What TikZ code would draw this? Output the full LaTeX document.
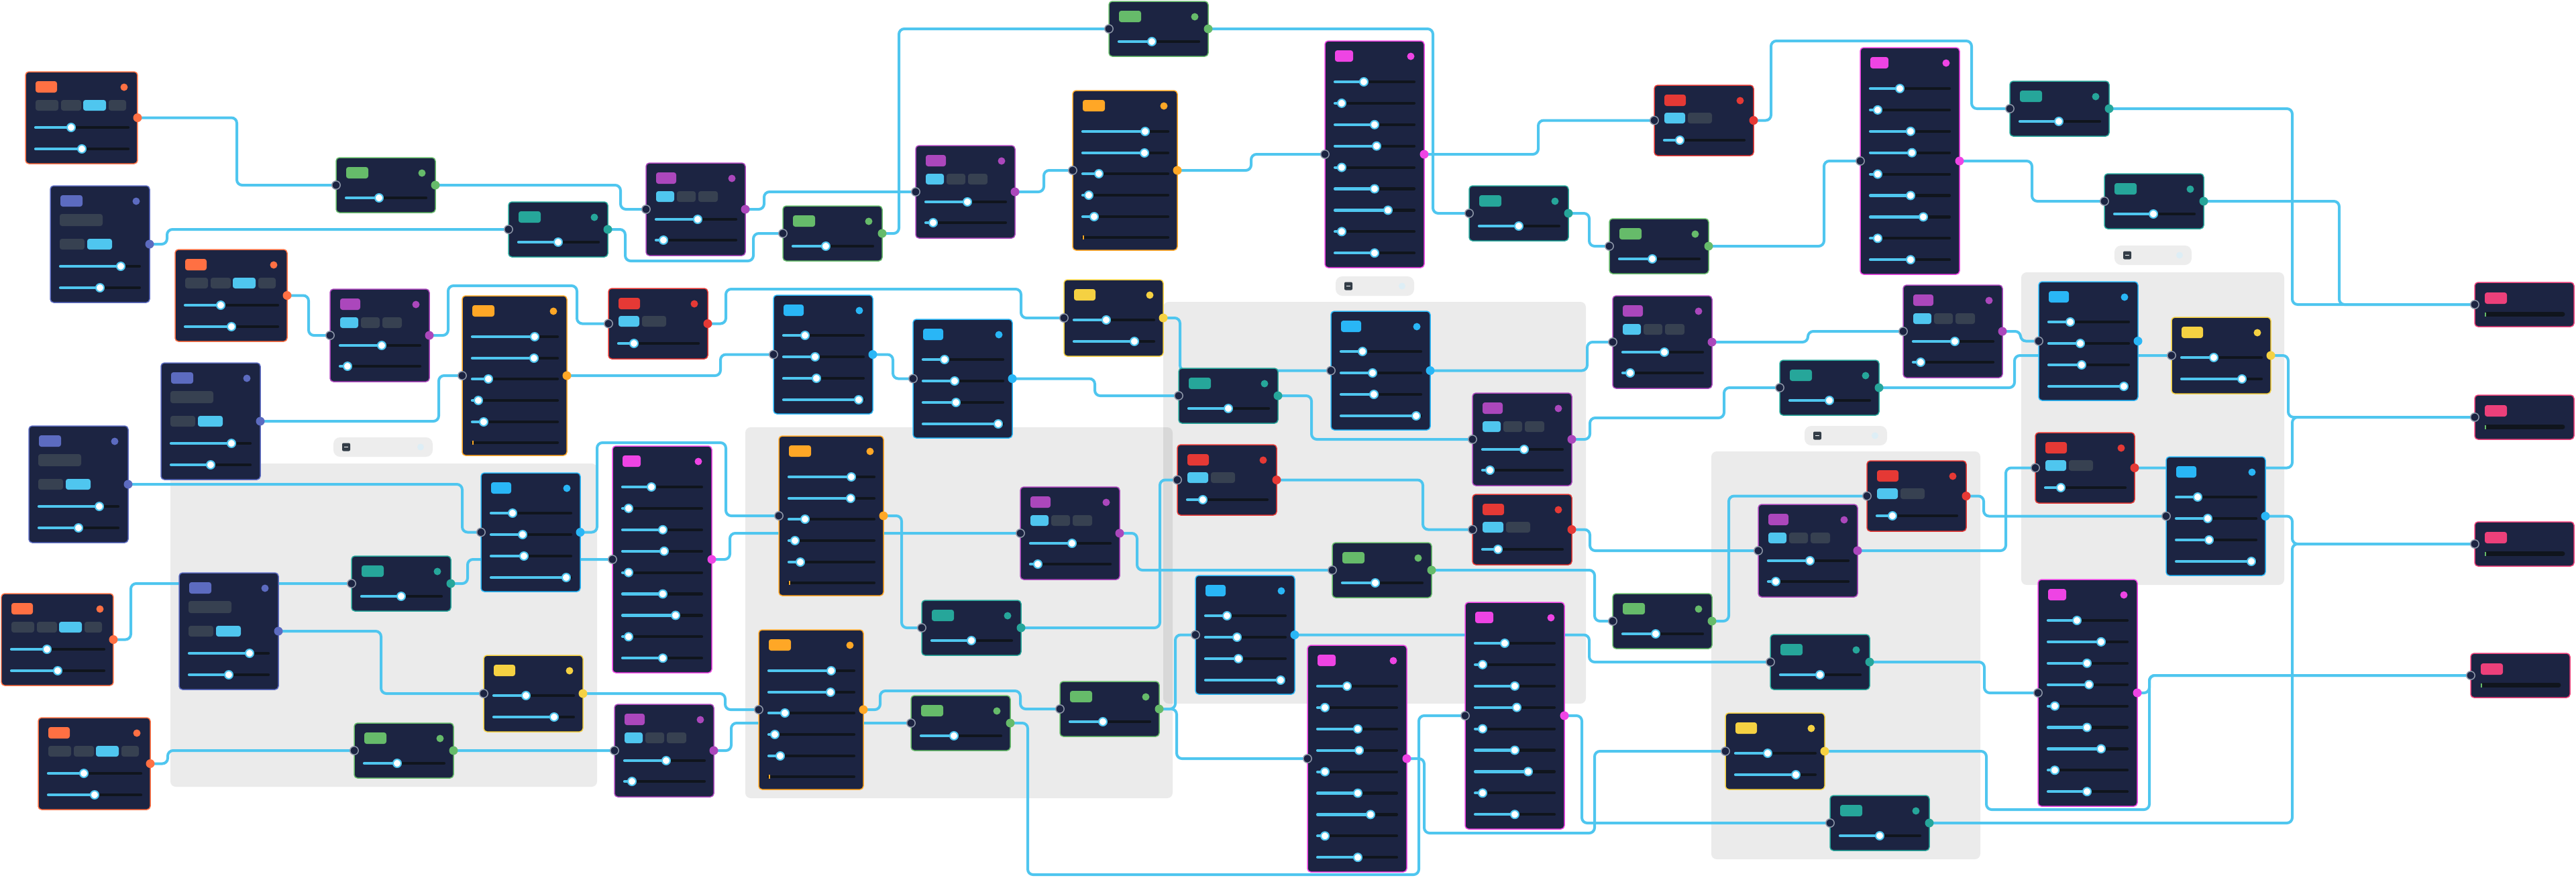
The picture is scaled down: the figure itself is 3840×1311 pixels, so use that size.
\documentclass[tikz,border=0pt]{standalone}
\usepackage{tikz}

\definecolor{cNavy}{HTML}{1C2442}
\definecolor{cTrack}{HTML}{10151D}
\definecolor{cChip}{HTML}{374151}
\definecolor{cWire}{HTML}{4FC6EF}
\definecolor{cRing}{HTML}{8D96A8}
\definecolor{cCoral}{HTML}{FF7043}
\definecolor{cIndigo}{HTML}{5C6BC0}
\definecolor{cLeaf}{HTML}{66BB6A}
\definecolor{cTeal}{HTML}{26A69A}
\definecolor{cGrape}{HTML}{AB47BC}
\definecolor{cAmber}{HTML}{FFA726}
\definecolor{cFuchsia}{HTML}{EE44E4}
\definecolor{cScarlet}{HTML}{E53935}
\definecolor{cSky}{HTML}{29B6F6}
\definecolor{cLemon}{HTML}{F5D142}
\definecolor{cRose}{HTML}{EC407A}
\definecolor{cPill}{HTML}{EDEDED}
\definecolor{cIcon}{HTML}{333D47}
\definecolor{cFaint}{HTML}{DDEEF6}

\pgfdeclarelayer{back}
\pgfdeclarelayer{wires}
\pgfsetlayers{back,wires,main}

\tikzset{
  card/.style={draw=#1, fill=cNavy, line width=0.15mm, rounded corners=0.5mm,
    inner sep=0pt, outer sep=0pt, anchor=north west},
  track/.style={draw=cTrack, line width=0.42mm, line cap=round},
  fillbar/.style={draw=cWire, line width=0.42mm, line cap=round},
  knob/.style={fill=white, draw=cWire, line width=0.2mm},
  inport/.style={fill=cNavy, draw=cRing, line width=0.15mm},
  wire/.style={draw=cWire, line width=0.4mm, rounded corners=0.8mm},
  groupbox/.style={fill=black, fill opacity=0.08, rounded corners=0.8mm}
}

\newcommand\headchip[3]{%
  \fill[#1, rounded corners=0.35mm] (15,14) rectangle ++(#2,17);
  \fill[#1] (#3-20,23) circle (0.55mm);}
\newcommand\cardchip[4]{\fill[#1, rounded corners=0.35mm] (#2,#3) rectangle ++(#4,16);}
\newcommand\cardslider[3]{%
  \draw[track] (15,#1) -- (#3,#1);
  \draw[fillbar] (15,#1) -- (#2,#1);
  \filldraw[knob] (#2,#1) circle (0.6mm);}
\newcommand\cardports[2]{%
  \filldraw[inport] (#1.west) circle (0.62mm);
  \fill[#2] (#1.east) circle (0.65mm);}

\newcommand\smallcard[5]{%
  \node[card=#4, minimum width=14.8mm, minimum height=8.2mm] (#1) at (#2,#3) {};
  \begin{scope}[shift={(#1.north west)}]
    \headchip{#4}{33}{148}
    \cardslider{60}{#5}{134}
  \end{scope}
  \cardports{#1}{#4}}
\newcommand\yellowcard[3]{%
  \node[card=cLemon, minimum width=14.8mm, minimum height=11.4mm] (#1) at (#2,#3) {};
  \begin{scope}[shift={(#1.north west)}]
    \headchip{cLemon}{32}{148}
    \cardslider{60}{63}{134}
    \cardslider{92}{105}{134}
  \end{scope}
  \cardports{#1}{cLemon}}
\newcommand\purplecard[3]{%
  \node[card=cGrape, minimum width=14.8mm, minimum height=13.8mm] (#1) at (#2,#3) {};
  \begin{scope}[shift={(#1.north west)}]
    \headchip{cGrape}{30}{148}
    \cardchip{cWire}{15}{42}{27}\cardchip{cChip}{46}{42}{28}\cardchip{cChip}{78}{42}{29}
    \cardslider{84}{77}{134}
    \cardslider{115}{26}{134}
  \end{scope}
  \cardports{#1}{cGrape}}
\newcommand\redcard[3]{%
  \node[card=cScarlet, minimum width=14.8mm, minimum height=10.5mm] (#1) at (#2,#3) {};
  \begin{scope}[shift={(#1.north west)}]
    \headchip{cScarlet}{32}{148}
    \cardchip{cWire}{15}{41}{31}\cardchip{cChip}{50}{41}{36}
    \cardslider{82}{38}{134}
  \end{scope}
  \cardports{#1}{cScarlet}}
\newcommand\bluecard[3]{%
  \node[card=cSky, minimum width=14.8mm, minimum height=17.7mm] (#1) at (#2,#3) {};
  \begin{scope}[shift={(#1.north west)}]
    \headchip{cSky}{30}{148}
    \foreach \y/\k in {60/47, 92/62, 124/64, 156/127} {\cardslider{\y}{\k}{134}}
  \end{scope}
  \cardports{#1}{cSky}}
\newcommand\ambercard[3]{%
  \node[card=cAmber, minimum width=15.6mm, minimum height=23.8mm] (#1) at (#2,#3) {};
  \begin{scope}[shift={(#1.north west)}]
    \headchip{cAmber}{33}{156}
    \foreach \y/\k in {61/108, 93/107, 124/39, 156/24, 188/32} {\cardslider{\y}{\k}{142}}
    \draw[track] (15,219) -- (142,219);
    \draw[cAmber, line width=0.2mm] (16,216) -- (16,222);
  \end{scope}
  \cardports{#1}{cAmber}}
\newcommand\magentacard[4]{%
  \node[card=cFuchsia, minimum width=14.8mm, minimum height=33.8mm] (#1) at (#2,#3) {};
  \begin{scope}[shift={(#1.north west)}]
    \headchip{cFuchsia}{27}{148}
    \foreach \k [count=\i from 0] in {#4} {\cardslider{61+31.9*\i}{\k}{133}}
  \end{scope}
  \cardports{#1}{cFuchsia}}
\newcommand\indigocard[3]{%
  \node[card=cIndigo, minimum width=14.8mm, minimum height=17.4mm] (#1) at (#2,#3) {};
  \begin{scope}[shift={(#1.north west)}]
    \headchip{cIndigo}{33}{148}
    \fill[cChip, rounded corners=0.35mm] (14,42) rectangle ++(64,18);
    \cardchip{cChip}{14}{79}{37}\cardchip{cWire}{55}{79}{37}
    \cardslider{120}{105}{133}
    \cardslider{152}{74}{133}
  \end{scope}
  \fill[cIndigo] (#1.east) circle (0.65mm);}
\newcommand\coralcard[3]{%
  \node[card=cCoral, minimum width=16.7mm, minimum height=13.7mm] (#1) at (#2,#3) {};
  \begin{scope}[shift={(#1.north west)}]
    \headchip{cCoral}{32}{167}
    \cardchip{cChip}{15}{42}{34}\cardchip{cChip}{53}{42}{30}\cardchip{cWire}{86}{42}{34}\cardchip{cChip}{124}{42}{26}
    \cardslider{83}{68}{153}
    \cardslider{115}{84}{153}
  \end{scope}
  \fill[cCoral] (#1.east) circle (0.65mm);}
\newcommand\sinkcard[3]{%
  \node[card=cRose, minimum width=14.8mm, minimum height=6.6mm] (#1) at (#2,#3) {};
  \begin{scope}[shift={(#1.north west)}]
    \fill[cRose, rounded corners=0.35mm] (15,15) rectangle ++(33,17);
    \draw[cTrack, line width=0.7mm, line cap=round] (18,47.5) -- (131,47.5);
    \draw[cLeaf, line width=0.2mm] (16,44.5) -- (16,50.5);
  \end{scope}
  \filldraw[inport] (#1.west) circle (0.62mm);}
\newcommand\grouppill[3]{%
  \fill[cPill, rounded corners=1mm] (#1,#2) rectangle ++(#3,29);
  \fill[cIcon, rounded corners=0.2mm] (#1+13,#2+8.5) rectangle ++(12,12);
  \draw[white, line width=0.15mm] (#1+16,#2+14.5) -- ++(6,0);
  \fill[cFaint] (#1+#3-18,#2+14.5) circle (0.5mm);}
\newcommand\wirelink[3]{\draw[wire] (#1.east) -| (#3,0 |- #2.west) -- (#2.west);}
\newcommand\wirevia[5]{\draw[wire] (#1.east) -| (#3,#4) -| (#5,0 |- #2.west) -- (#2.west);}

\begin{document}
\begin{tikzpicture}[x=0.1mm, y=-0.1mm]
  \useasboundingbox (0,0) rectangle (3840,1311);
  \begin{pgfonlayer}{back}
    \fill[white] (0,0) rectangle (3840,1311);
    \foreach \a/\b/\c/\d in {254/691/890/1173, 1111/637/1748/1190, 1734/450/2364/1049,
        2551/673/2952/1281, 3013/406/3405/872}
      \fill[groupbox] (\a,\b) rectangle (\c,\d);
    \grouppill{497}{652}{148}
    \grouppill{1991}{412}{117}
    \grouppill{2690}{635}{123}
    \grouppill{3152}{366}{115}
  \end{pgfonlayer}

  \coralcard{coral1}{38}{107}
  \coralcard{coral2}{261}{372}
  \coralcard{coral3}{2}{885}
  \coralcard{coral4}{57}{1070}
  \indigocard{indigo1}{75}{277}
  \indigocard{indigo2}{240}{541}
  \indigocard{indigo3}{43}{635}
  \indigocard{indigo4}{267}{854}

  \smallcard{green1}{501}{235}{cLeaf}{64}
  \smallcard{green2}{1167}{307}{cLeaf}{64}
  \smallcard{green3}{1653}{2}{cLeaf}{64}
  \smallcard{green4}{528}{1078}{cLeaf}{64}
  \smallcard{green5}{1358}{1037}{cLeaf}{64}
  \smallcard{green6}{1580}{1016}{cLeaf}{64}
  \smallcard{green7}{2399}{326}{cLeaf}{64}
  \smallcard{green8}{1986}{809}{cLeaf}{64}
  \smallcard{green9}{2404}{885}{cLeaf}{64}
  \smallcard{teal1}{758}{301}{cTeal}{74}
  \smallcard{teal2}{524}{829}{cTeal}{74}
  \smallcard{teal3}{1374}{895}{cTeal}{74}
  \smallcard{teal4}{1757}{549}{cTeal}{74}
  \smallcard{teal5}{2190}{277}{cTeal}{74}
  \smallcard{teal6}{2653}{537}{cTeal}{74}
  \smallcard{teal7}{2639}{946}{cTeal}{74}
  \smallcard{teal8}{2728}{1186}{cTeal}{74}
  \smallcard{teal9}{2996}{121}{cTeal}{73}
  \smallcard{teal10}{3137}{259}{cTeal}{73}

  \purplecard{purple1}{492}{431}
  \purplecard{purple2}{963}{243}
  \purplecard{purple3}{1365}{217}
  \purplecard{purple4}{916}{1050}
  \purplecard{purple5}{1521}{726}
  \purplecard{purple6}{2404}{441}
  \purplecard{purple7}{2195}{586}
  \purplecard{purple8}{2621}{752}
  \purplecard{purple9}{2837}{425}

  \redcard{red1}{907}{430}
  \redcard{red2}{1755}{663}
  \redcard{red3}{2195}{737}
  \redcard{red4}{2466}{127}
  \redcard{red5}{2783}{687}
  \redcard{red6}{3034}{645}

  \bluecard{blue1}{717}{705}
  \bluecard{blue2}{1153}{440}
  \bluecard{blue3}{1361}{476}
  \bluecard{blue4}{1782}{858}
  \bluecard{blue5}{1984}{464}
  \bluecard{blue6}{3039}{420}
  \bluecard{blue7}{3229}{681}

  \yellowcard{yellow1}{721}{977}
  \yellowcard{yellow2}{1586}{417}
  \yellowcard{yellow3}{2572}{1063}
  \yellowcard{yellow4}{3237}{473}

  \ambercard{amber1}{689}{441}
  \ambercard{amber2}{1599}{135}
  \ambercard{amber3}{1161}{650}
  \ambercard{amber4}{1131}{939}

  \magentacard{magenta1}{913}{665}{58,24,75,77,24,75,94,24,75}
  \magentacard{magenta2}{1975}{61}{58,25,74,77,25,74,94,25,74}
  \magentacard{magenta3}{2773}{71}{59,26,75,77,26,75,94,26,75}
  \magentacard{magenta4}{2184}{898}{59,26,74,77,26,74,94,26,74}
  \magentacard{magenta5}{1949}{962}{59,26,75,77,26,75,94,26,75}
  \magentacard{magenta6}{3038}{864}{58,94,73,76,25,73,94,25,73}

  \sinkcard{sink1}{3689}{421}
  \sinkcard{sink2}{3689}{589}
  \sinkcard{sink3}{3689}{778}
  \sinkcard{sink4}{3683}{974}

  \begin{pgfonlayer}{wires}
    \wirelink{coral1}{green1}{353}
    \wirelink{indigo1}{teal1}{249}
    \wirelink{green1}{purple2}{925}
    \wirevia{teal1}{green2}{932}{389}{1123}
    \wirelink{coral2}{purple1}{460}
    \wirevia{purple1}{red1}{668}{426}{860}
    \wirelink{indigo2}{amber1}{654}
    \wirelink{amber1}{blue2}{1074}
    \wirevia{red1}{yellow2}{1082}{431}{1522}
    \wirelink{purple2}{purple3}{1139}
    \wirelink{green2}{green3}{1340}
    \wirelink{purple3}{amber2}{1556}
    \wirelink{amber2}{magenta2}{1865}
    \wirelink{green3}{teal5}{2136}
    \wirelink{magenta2}{red4}{2293}
    \wirelink{teal5}{green7}{2369}
    \wirevia{red4}{teal9}{2640}{61}{2939}
    \wirelink{green7}{magenta3}{2719}
    \wirelink{magenta3}{teal10}{3029}
    \wirelink{teal9}{sink1}{3417}
    \wirelink{teal10}{sink1}{3487}
    \wirelink{blue2}{blue3}{1331}
    \wirelink{blue3}{teal4}{1632}
    \wirelink{yellow2}{blue5}{1759}
    \wirelink{teal4}{purple7}{1955}
    \wirelink{blue5}{purple6}{2366}
    \wirevia{purple7}{teal6}{2370}{623}{2570}
    \wirelink{purple6}{purple9}{2695}
    \wirelink{purple9}{blue6}{3012}
    \wirelink{teal6}{yellow4}{3003}
    \wirelink{yellow4}{sink2}{3411}
    \wirelink{red6}{sink2}{3417}
    \wirelink{red5}{blue7}{2957}
    \wirelink{blue7}{sink3}{3417}
    \wirelink{teal8}{sink3}{3417}
    \wirelink{purple8}{red6}{2990}
    \wirelink{green9}{red5}{2577}
    \wirelink{red3}{purple8}{2370}
    \wirelink{teal7}{magenta6}{2958}
    \wirevia{yellow3}{sink4}{2961}{1207}{3204}
    \wirelink{magenta6}{sink4}{3204}
    \wirelink{green8}{green9}{2377}
    \wirelink{purple5}{green8}{1695}
    \wirelink{red2}{red3}{2121}
    \wirelink{teal3}{red2}{1729}
    \wirelink{magenta1}{purple5}{1088}
    \wirevia{blue1}{amber3}{890}{660}{1082}
    \wirelink{indigo3}{blue1}{689}
    \wirelink{teal2}{magenta1}{697}
    \wirelink{indigo4}{yellow1}{568}
    \wirelink{coral3}{teal2}{195}
    \wirelink{coral4}{green4}{250}
    \draw[wire] (green4.east) -- (purple4.west);
    \wirelink{yellow1}{amber4}{1081}
    \wirelink{purple4}{green5}{1090}
    \wirevia{amber4}{green6}{1312}{1030}{1521}
    \wirelink{amber3}{teal3}{1344}
    \wirevia{green5}{magenta4}{1532}{1304}{2115}
    \wirelink{magenta4}{teal8}{2358}
    \wirelink{green6}{magenta5}{1754}
    \wirelink{green6}{blue4}{1752}
    \wirelink{blue4}{teal7}{2369}
    \wirevia{magenta5}{yellow3}{2123}{1242}{2377}
  \end{pgfonlayer}
\end{tikzpicture}
\end{document}
